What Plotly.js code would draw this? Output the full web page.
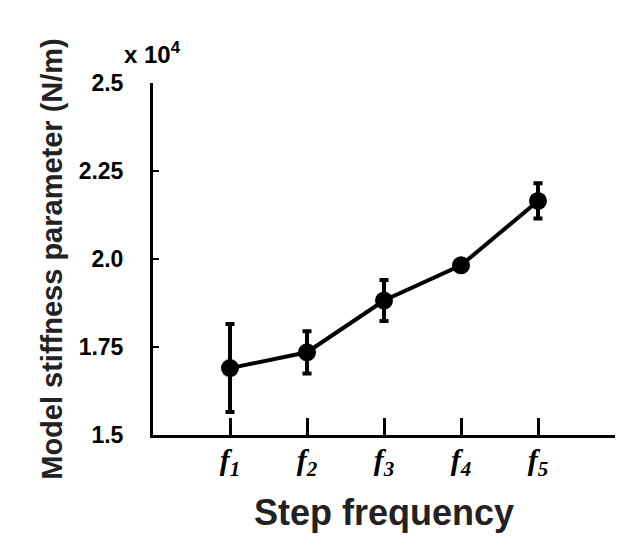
<!DOCTYPE html>
<html><head><meta charset="utf-8">
<script src="https://cdn.plot.ly/plotly-3.0.1.min.js"></script>
<style>html,body{margin:0;padding:0;background:#fff}#chart{width:640px;height:552px}</style>
</head><body><div id="chart"></div>
<script>
const categories = [1, 2, 3, 4, 5];
const categoryLabels = ['<i><b>f</b></i><sub><i><b>1</b></i></sub>', '<i><b>f</b></i><sub><i><b>2</b></i></sub>', '<i><b>f</b></i><sub><i><b>3</b></i></sub>', '<i><b>f</b></i><sub><i><b>4</b></i></sub>', '<i><b>f</b></i><sub><i><b>5</b></i></sub>'];
const stiffness = [1.69, 1.735, 1.882, 1.982, 2.165];
const stiffnessErr = [0.125, 0.06, 0.058, 0.006, 0.05];
const yTickVals = [1.5, 1.75, 2.0, 2.25, 2.5];
const yTickText = ['1.5', '1.75', '2.0', '2.25', '2.5'];

const trace = {
  x: categories, y: stiffness, type: 'scatter', mode: 'lines+markers',
  line: {color: '#000', width: 4},
  marker: {color: '#000', size: 18},
  error_y: {type: 'data', array: stiffnessErr, visible: true, color: '#000', thickness: 4, width: 4.5},
  showlegend: false
};
const layout = {
  width: 640, height: 552,
  margin: {l: 153, r: 25, t: 83, b: 117},
  paper_bgcolor: '#fff', plot_bgcolor: '#fff',
  font: {family: 'Liberation Sans, Arial, sans-serif', color: '#000'},
  xaxis: {
    range: [0, 6], tickvals: categories, ticktext: categoryLabels,
    ticks: 'inside', ticklen: 17, tickwidth: 3, tickcolor: '#000',
    ticklabelstandoff: -4,
    showline: true, linewidth: 3, linecolor: '#000', showgrid: false, zeroline: false,
    tickfont: {family: 'Liberation Serif, serif', size: 30, color: '#000'},
    title: {text: '<b>Step frequency</b>', font: {family: 'Liberation Sans, Arial, sans-serif', size: 36, color: '#222'}, standoff: 20}
  },
  yaxis: {
    range: [1.5, 2.5], tickvals: yTickVals, ticktext: yTickText,
    ticks: 'inside', ticklen: 6, tickwidth: 2, tickcolor: '#000',
    ticklabelstandoff: 22,
    showline: true, linewidth: 3, linecolor: '#000', showgrid: false, zeroline: false,
    tickfont: {family: 'Liberation Sans, Arial, sans-serif', size: 23, color: '#000', weight: 'bold'},
    title: {text: '<b>Model stiffness parameter (N/m)</b>', font: {family: 'Liberation Sans, Arial, sans-serif', size: 29, color: '#222'}, standoff: 8}
  },
  annotations: [{
    xref: 'paper', yref: 'paper', x: -0.068, y: 1.085, xanchor: 'left', yanchor: 'middle',
    text: '<b>x 10<sup>4</sup></b>', showarrow: false,
    font: {family: 'Liberation Sans, Arial, sans-serif', size: 24, color: '#000'}
  }]
};
Plotly.newPlot('chart', [trace], layout, {displayModeBar: false, staticPlot: true});
</script></body></html>
